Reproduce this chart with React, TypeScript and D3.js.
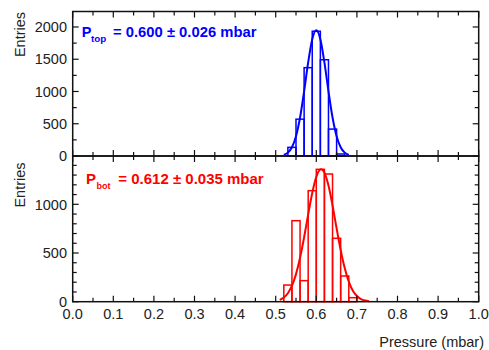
import React from 'react';
import { scaleLinear, line, curveCardinal, range } from 'd3';

// histogram bins (left edges, bin width 0.02 mbar) and counts
const binWidth = 0.02;
const topBins = [0.53, 0.55, 0.57, 0.59, 0.61, 0.63, 0.65];
const topCounts = [134, 571, 1369, 1934, 1492, 417, 31];
const botBins = [0.52, 0.54, 0.56, 0.58, 0.6, 0.62, 0.64, 0.66, 0.68];
const botCounts = [171, 832, 216, 1140, 1359, 1311, 651, 264, 41];

// gaussian fit curves
const topFitX = [0.52, 0.53, 0.54, 0.55, 0.56, 0.57, 0.58, 0.59, 0.6, 0.61, 0.62, 0.63, 0.64, 0.65, 0.66, 0.67, 0.68];
const topFitY = [17, 52, 136, 307, 597, 1002, 1450, 1811, 1950, 1811, 1450, 1002, 597, 307, 136, 52, 17];
const botFitX = [0.51, 0.52, 0.53, 0.54, 0.55, 0.56, 0.57, 0.58, 0.59, 0.6, 0.61, 0.62, 0.63, 0.64, 0.65, 0.66, 0.67, 0.68, 0.69, 0.7, 0.71, 0.72, 0.73];
const botFitY = [19, 43, 87, 164, 283, 451, 662, 896, 1116, 1282, 1358, 1325, 1192, 988, 754, 531, 345, 206, 113, 58, 27, 12, 5];

const xTickLabels = ['0.0', '0.1', '0.2', '0.3', '0.4', '0.5', '0.6', '0.7', '0.8', '0.9', '1.0'];
const topYLabels = [0, 500, 1000, 1500, 2000];
const botYLabels = [0, 500, 1000];

const font = '"Liberation Sans", Arial, sans-serif';
const blue = '#0000ff';
const red = '#ff0000';

const left = 72.7, right = 478.7;
const x = scaleLinear().domain([0, 1]).range([left, right]);

type PanelProps = {
  y0: number; y1: number; yMax: number; minorStep: number; labels: number[];
  bins: number[]; counts: number[]; fitX: number[]; fitY: number[]; color: string;
};

const Panel = ({ y0, y1, yMax, minorStep, labels, bins, counts, fitX, fitY, color }: PanelProps) => {
  const y = scaleLinear().domain([0, yMax]).range([y0, y1]);
  const fitLine = line<number>().curve(curveCardinal).x((d) => x(d)).y((d, i) => y(fitY[i]));
  const xMinor = range(0, 21).map((i) => i * 0.05);
  const yMinor = range(0, Math.floor(yMax / minorStep) + 1).map((i) => i * minorStep);
  const isMajorY = (v: number) => v % 500 === 0;
  const isMajorX = (i: number) => i % 2 === 0;

  return (
    <g>
      {bins.map((b, i) => (
        <rect key={i} x={x(b)} width={x(b + binWidth) - x(b)} y={y(counts[i])} height={y(0) - y(counts[i])}
          fill='none' stroke={color} strokeWidth={1.5} />
      ))}
      <path d={fitLine(fitX) || ''} fill='none' stroke={color} strokeWidth={2} />
      <rect x={left} y={y1} width={right - left} height={y0 - y1} fill='none' stroke='#111' strokeWidth={1.5} />
      {xMinor.map((v, i) => {
        const len = isMajorX(i) ? 6 : 4;
        return (
          <g key={'x' + i} stroke='#111' strokeWidth={1.2}>
            <line x1={x(v)} x2={x(v)} y1={y0} y2={y0 - len} />
            <line x1={x(v)} x2={x(v)} y1={y1} y2={y1 + len} />
          </g>
        );
      })}
      {yMinor.map((v, i) => {
        const len = isMajorY(v) ? 6 : 4;
        return (
          <g key={'y' + i} stroke='#111' strokeWidth={1.2}>
            <line x1={left} x2={left + len} y1={y(v)} y2={y(v)} />
            <line x1={right} x2={right - len} y1={y(v)} y2={y(v)} />
          </g>
        );
      })}
      {labels.map((v) => (
        <text key={v} x={67} y={y(v)} dy='0.36em' textAnchor='end' fontSize={14.5} fontFamily={font} fill='#222'>{v}</text>
      ))}
    </g>
  );
};

export default function App() {
  return (
    <svg width={489} height={350} style={{ position: 'absolute', left: 0, top: 0 }}>
      <rect width={489} height={350} fill='#fff' />
      <Panel y0={156} y1={11.5} yMax={2240} minorStep={250} labels={topYLabels}
        bins={topBins} counts={topCounts} fitX={topFitX} fitY={topFitY} color={blue} />
      <Panel y0={301.7} y1={156} yMax={1496} minorStep={100} labels={botYLabels}
        bins={botBins} counts={botCounts} fitX={botFitX} fitY={botFitY} color={red} />

      {xTickLabels.map((t, i) => (
        <text key={t} x={x(i / 10)} y={319} textAnchor='middle' fontSize={14.5} fontFamily={font} fill='#222'>{t}</text>
      ))}
      <text x={484} y={346.5} textAnchor='end' fontSize={14.5} fontFamily={font} fill='#222'>Pressure (mbar)</text>

      <text transform='translate(25,34.5) rotate(-90)' textAnchor='middle' fontSize={14.5} fontFamily={font} fill='#222'>Entries</text>
      <text transform='translate(25,185) rotate(-90)' textAnchor='middle' fontSize={14.5} fontFamily={font} fill='#222'>Entries</text>

      <g fontFamily={font} fontWeight='bold' fill={blue}>
        <text x={81.7} y={36.7} fontSize={14.5}>P</text>
        <text x={91} y={42.3} fontSize={9.8}>top</text>
        <text x={113} y={36.7} fontSize={14.8}>= 0.600 ± 0.026 mbar</text>
      </g>
      <g fontFamily={font} fontWeight='bold' fill={red}>
        <text x={86} y={184} fontSize={15}>P</text>
        <text x={96.5} y={189.3} fontSize={9}>bot</text>
        <text x={118.3} y={184} fontSize={15}>= 0.612 ± 0.035 mbar</text>
      </g>
    </svg>
  );
}
